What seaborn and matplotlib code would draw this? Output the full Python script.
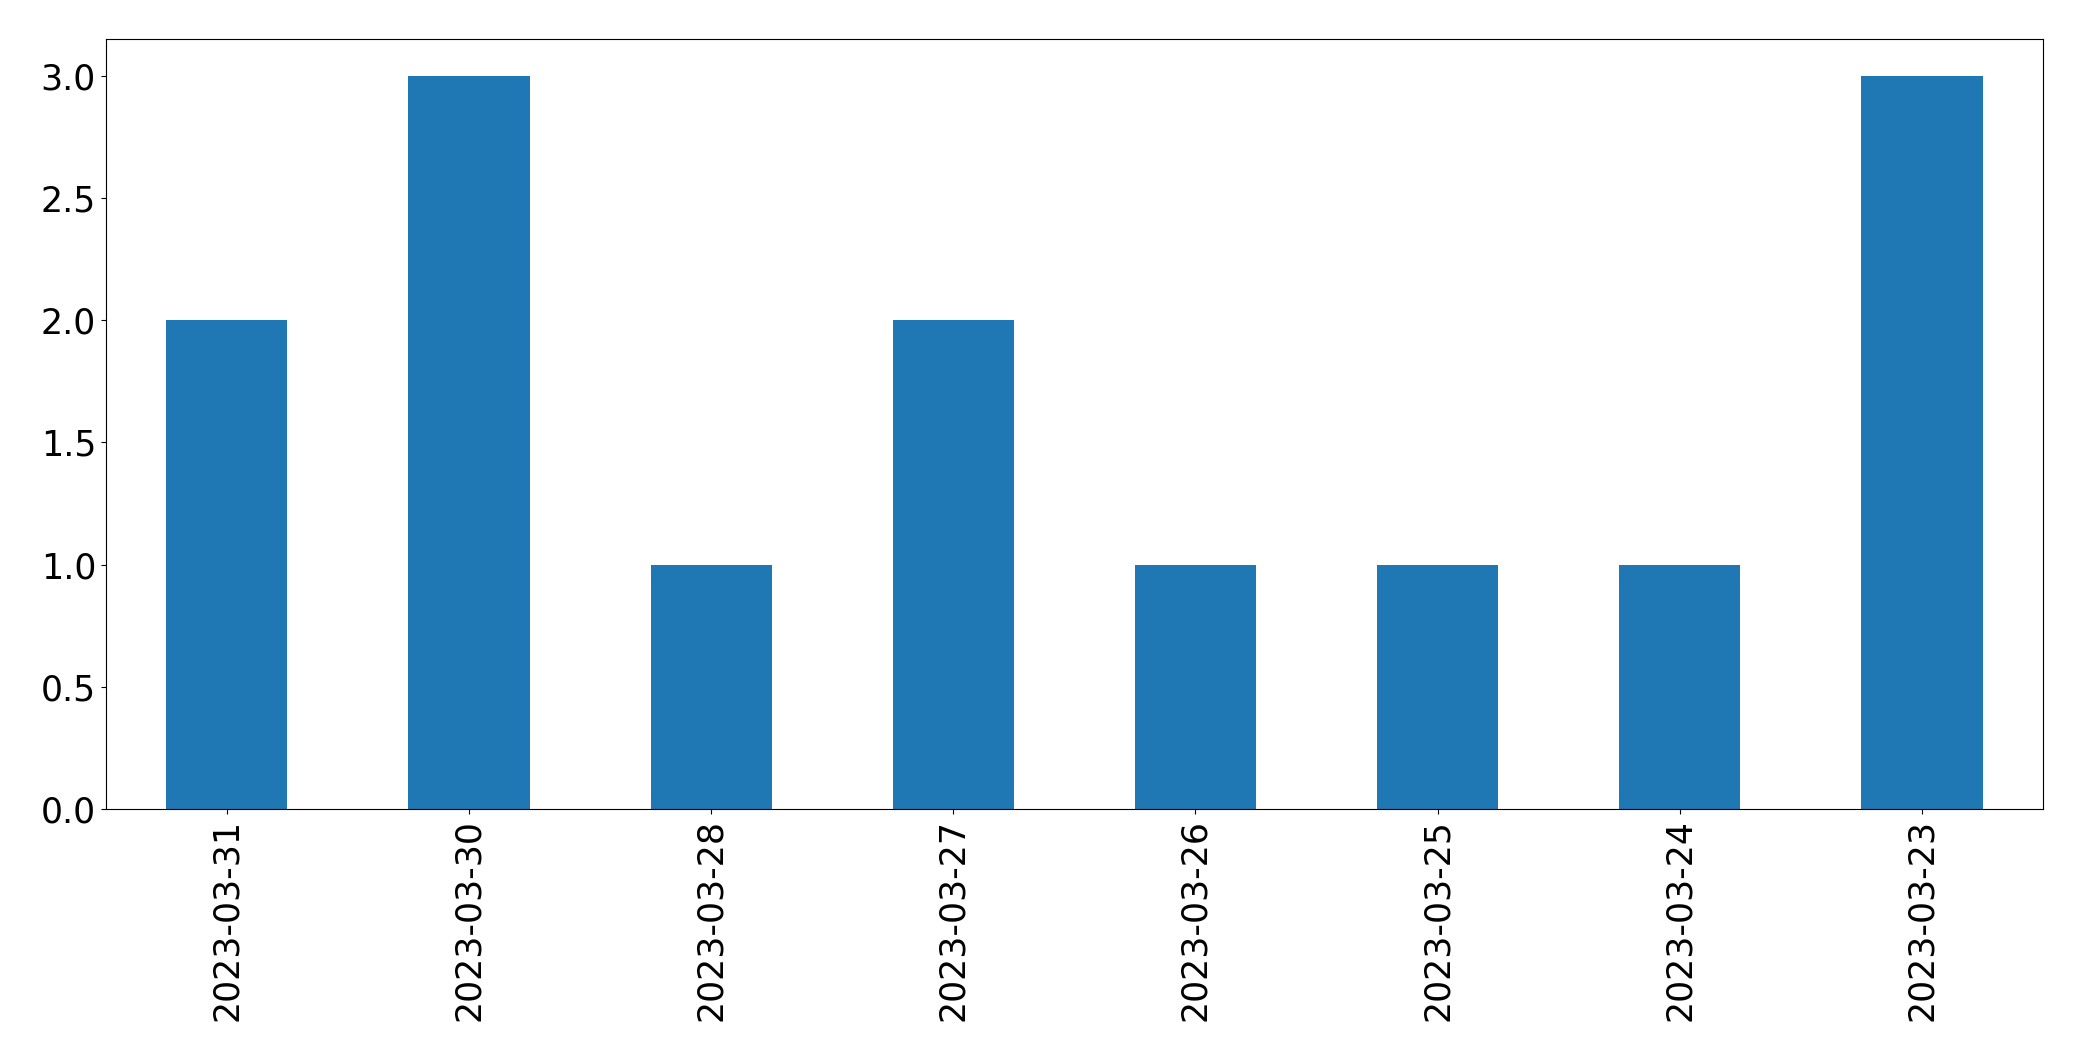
import matplotlib
matplotlib.use("Agg")
import matplotlib.pyplot as plt
import pandas as pd
import seaborn as sns


DATES = [
    "2023-03-31",
    "2023-03-30",
    "2023-03-28",
    "2023-03-27",
    "2023-03-26",
    "2023-03-25",
    "2023-03-24",
    "2023-03-23",
]
COUNTS = [2, 3, 1, 2, 1, 1, 1, 3]


def main() -> None:
    data = pd.DataFrame({"date": DATES, "count": COUNTS})

    fig, ax = plt.subplots(figsize=(20.82, 10.61), dpi=100)
    fig.subplots_adjust(left=0.0508, right=0.9813, top=0.963, bottom=0.2375)

    sns.barplot(
        data=data,
        x="date",
        y="count",
        order=DATES,
        color="#1f77b4",
        saturation=1,
        width=0.5,
        errorbar=None,
        linewidth=0,
        ax=ax,
    )
    ax.set_xlim(-0.5, len(DATES) - 0.5)
    ax.set_ylim(0, 3.15)
    ax.set_xlabel("")
    ax.set_ylabel("")
    ax.tick_params(axis="both", labelsize=25)
    ax.tick_params(axis="x", labelrotation=90)

    fig.savefig("out.png", dpi=100)
    plt.close(fig)


if __name__ == "__main__":
    main()
